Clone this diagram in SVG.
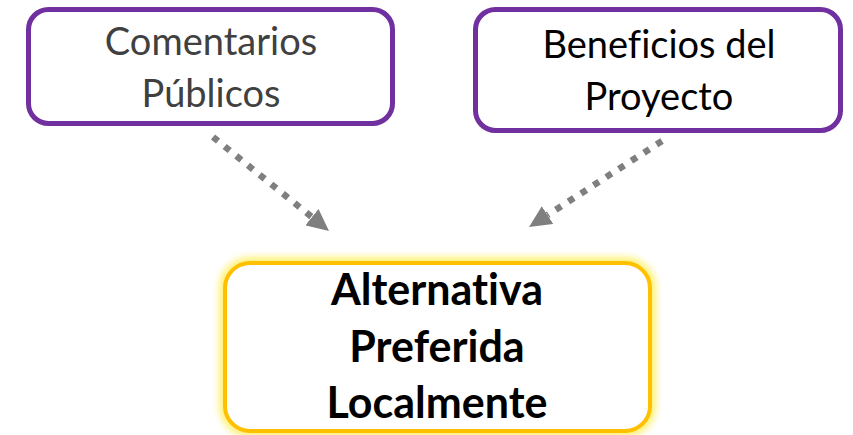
<svg xmlns="http://www.w3.org/2000/svg" width="853" height="435" viewBox="0 0 853 435">
<style>
.box{fill:#fff;stroke:#7030A0;stroke-width:5}
.t{font-family:Lato,"Liberation Sans",sans-serif;font-size:38px;text-anchor:middle;font-variant-ligatures:none}
.b{font-family:Lato,"Liberation Sans",sans-serif;font-size:43px;font-weight:bold;text-anchor:middle;fill:#000;font-variant-ligatures:none}
.c{fill:none;stroke:#7F7F7F;stroke-width:6.5;stroke-dasharray:6.5 8.5}
</style>
<defs>
<marker id="ah" markerUnits="userSpaceOnUse" markerWidth="22" markerHeight="21" refX="0" refY="10.5" orient="auto">
<path d="M0,0 L22,10.5 L0,21 z" fill="#7F7F7F"/>
</marker>
<filter id="glow" x="-10%" y="-20%" width="120%" height="140%">
<feGaussianBlur stdDeviation="3.5"/>
</filter>
</defs>
<rect width="853" height="435" fill="#fff"/>
<g id="connectors">
<line class="c" x1="213" y1="137" x2="311.9" y2="217.1" marker-end="url(#ah)"/>
<line class="c" x1="662" y1="141" x2="547.5" y2="215.1" marker-end="url(#ah)"/>
</g>
<g id="comentarios">
<rect class="box" x="28.5" y="9.5" width="364" height="114" rx="20"/>
<text class="t" fill="#404040"><tspan x="211" y="55">Comentarios</tspan><tspan x="211" y="107">Públicos</tspan></text>
</g>
<g id="beneficios">
<rect class="box" x="475.5" y="9.5" width="365" height="121" rx="20"/>
<text class="t" fill="#000"><tspan x="659" y="58">Beneficios del</tspan><tspan x="659" y="110">Proyecto</tspan></text>
</g>
<g id="alternativa">
<rect x="225" y="263" width="425" height="168" rx="25" fill="none" stroke="#FFEB3B" stroke-width="12" filter="url(#glow)" opacity="0.7"/>
<rect x="225" y="263" width="425" height="168" rx="25" fill="#fff" stroke="#FFC000" stroke-width="4"/>
<text class="b"><tspan x="437" y="305">Alternativa</tspan><tspan x="437" y="362">Preferida</tspan><tspan x="437" y="418">Localmente</tspan></text>
</g>
</svg>
